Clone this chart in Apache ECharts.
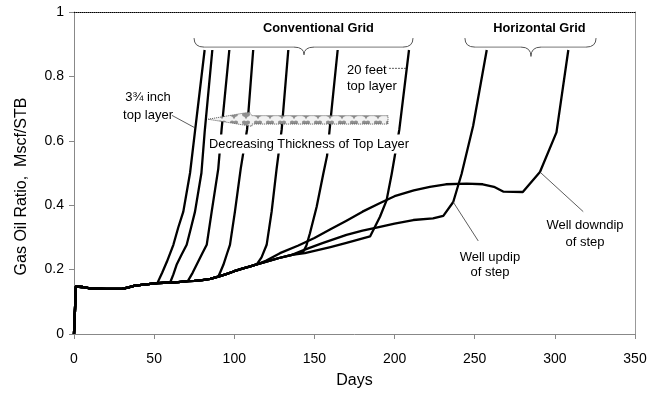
<!DOCTYPE html>
<html>
<head>
<meta charset="utf-8">
<script src="https://cdn.jsdelivr.net/npm/echarts@6/dist/echarts.min.js"></script>
<style>
html, body { margin: 0; padding: 0; background: #fff; }
#chart { width: 661px; height: 394px; }
</style>
</head>
<body>
<div id="chart"></div>
<script>
// Gas-oil ratio (Mscf/STB) versus time (days).
// Shared early trend that every well follows before gas breakthrough.
const trend = [
  [0, 0], [1.2, 0.147], [5, 0.146], [10, 0.142], [20, 0.14], [30, 0.14],
  [34, 0.145], [38, 0.15], [45, 0.154], [52, 0.158], [60, 0.16], [65, 0.161],
  [71, 0.164], [75, 0.165], [80, 0.167], [85, 0.171], [90, 0.178], [95, 0.186],
  [100, 0.195], [105, 0.203], [110, 0.21], [114, 0.216], [120, 0.225],
  [128, 0.236], [136, 0.246]
];

// Conventional grid runs, thinnest top layer (3¾ inch) to thickest (20 feet).
const convA = [[52, 0.158], [55, 0.19], [58, 0.225], [62, 0.277], [65, 0.33], [68.2, 0.38], [72.4, 0.5], [75.5, 0.63], [81.5, 0.882]];
const convB = [[60, 0.16], [62, 0.185], [64, 0.215], [67, 0.245], [70.3, 0.277], [73, 0.33], [75.5, 0.38], [79.5, 0.5], [81.5, 0.626], [86.3, 0.882]];
const convC = [[71, 0.164], [74, 0.19], [76.5, 0.215], [80, 0.25], [82.8, 0.277], [85.9, 0.38], [90, 0.513], [92.1, 0.636], [96.9, 0.882]];
const convD = [[90, 0.178], [91.5, 0.195], [93.2, 0.215], [95.5, 0.25], [97.3, 0.277], [100.4, 0.38], [104, 0.513], [108, 0.636], [111.8, 0.882]];
const convE = [[114, 0.216], [117, 0.238], [120.2, 0.277], [123.3, 0.38], [126.4, 0.513], [129.6, 0.636], [133.7, 0.882]];
const convF = [[143, 0.255], [145, 0.275], [147.2, 0.313], [151.4, 0.395], [155.5, 0.497], [157.9, 0.554], [160.7, 0.697], [164.5, 0.882]];
const convG = [[144, 0.251], [160, 0.27], [170, 0.283], [184.7, 0.303], [190.9, 0.364], [195, 0.415], [198.2, 0.497], [203, 0.636], [209, 0.882]];

// Horizontal grid runs.
const wellUpdip = [[144, 0.262], [155, 0.282], [170, 0.308], [180, 0.321], [190.9, 0.333], [200, 0.343], [211.7, 0.354], [224, 0.359], [230.4, 0.367], [236.6, 0.41], [241.8, 0.497], [249, 0.646], [257.5, 0.882]];
const wellDowndip = [[120, 0.228], [128.5, 0.251], [140, 0.275], [150, 0.298], [160, 0.325], [170, 0.352], [180, 0.38], [191, 0.407], [200, 0.428], [212, 0.446], [222, 0.457], [232, 0.465], [245, 0.467], [255, 0.465], [262, 0.457], [268, 0.442], [280, 0.441], [290.7, 0.503], [301, 0.626], [308.4, 0.882]];

const runs = [convA, convB, convC, convD, convE, convF, convG, wellUpdip, wellDowndip];

const FONT = "'Liberation Sans', Arial, sans-serif";

// Prefix each run with the shared trend up to the point where it departs.
function withTrend(run) {
  const start = run[0][0];
  return trend.filter(p => p[0] < start).concat(run);
}

const chart = echarts.init(document.getElementById('chart'), null, { renderer: 'canvas' });

chart.setOption({
  animation: false,
  backgroundColor: '#fff',
  grid: { left: 74, right: 26, top: 12, bottom: 57 },
  xAxis: [{
    type: 'value', min: 0, max: 350, interval: 50,
    name: 'Days', nameLocation: 'middle', nameGap: 39,
    nameTextStyle: { fontFamily: FONT, fontSize: 16, color: '#000' },
    axisLine: { lineStyle: { color: '#888', width: 1 } },
    axisTick: { show: true, length: 5, lineStyle: { color: '#888' } },
    axisLabel: { fontFamily: FONT, fontSize: 14, color: '#000', margin: 18 },
    splitLine: { show: false }
  }, {
    type: 'value', min: 0, max: 350, interval: 50, position: 'top',
    axisLine: { show: true, onZero: false, lineStyle: { color: '#000', width: 1, type: [1, 1] } },
    axisTick: { show: false }, axisLabel: { show: false }, splitLine: { show: false }
  }],
  yAxis: [{
    type: 'value', min: 0, max: 1, interval: 0.2,
    name: 'Gas Oil Ratio,  Mscf/STB', nameLocation: 'middle', nameGap: 44,
    nameTextStyle: { fontFamily: FONT, fontSize: 16, color: '#000', padding: [0, 27, 0, 0] },
    axisLine: { show: true, lineStyle: { color: '#888', width: 1 } },
    axisTick: { show: true, length: 5, lineStyle: { color: '#888' } },
    axisLabel: { fontFamily: FONT, fontSize: 14, color: '#000', margin: 10 },
    splitLine: { show: false }
  }, {
    type: 'value', min: 0, max: 1, interval: 0.2, position: 'right',
    axisLine: { show: true, onZero: false, lineStyle: { color: '#999', width: 1 } },
    axisTick: { show: false }, axisLabel: { show: false }, splitLine: { show: false }
  }],
  series: runs.map(run => ({
    type: 'line',
    data: withTrend(run),
    showSymbol: false,
    symbol: 'none',
    lineStyle: { color: '#000', width: 2.3, join: 'round' },
    z: 3
  }))
});

// Annotations, anchored in (days, GOR) coordinates.
const px = (d, v) => chart.convertToPixel({ gridIndex: 0 }, [d, v]);

function label(d, v, text, opts) {
  const p = px(d, v);
  return {
    type: 'text', x: p[0], y: p[1], z: 10,
    style: Object.assign({
      text: text, fill: '#000', fontFamily: FONT, fontSize: 13,
      align: 'center', verticalAlign: 'middle'
    }, opts || {})
  };
}

function segment(a, b, dash, color) {
  return {
    type: 'line', z: 10,
    shape: { x1: a[0], y1: a[1], x2: b[0], y2: b[1] },
    style: { stroke: color || '#333', lineWidth: 0.8, lineDash: dash || null }
  };
}

function leader(d1, v1, d2, v2, dash) {
  return segment(px(d1, v1), px(d2, v2), dash);
}

function curve(a, c, b) {
  return {
    type: 'bezierCurve', z: 10,
    shape: { x1: a[0], y1: a[1], cpx1: c[0], cpy1: c[1], x2: b[0], y2: b[1] },
    style: { stroke: '#555', lineWidth: 1, fill: null }
  };
}

// Curly brace: ends at vTop, straight run at vMid, point at vTip.
function brace(dLeft, dTip, dRight, vTop, vMid, vTip) {
  const L = px(dLeft, vTop), T = px(dTip, vTip), R = px(dRight, vTop);
  const y = px(dLeft, vMid)[1];
  const r = 10;
  return [
    curve(L, [L[0], y], [L[0] + r, y]),
    segment([L[0] + r, y], [T[0] - r, y], null, '#555'),
    curve([T[0] - r, y], [T[0], y], T),
    curve(T, [T[0], y], [T[0] + r, y]),
    segment([T[0] + r, y], [R[0] - r, y], null, '#555'),
    curve([R[0] - r, y], [R[0], y], R)
  ];
}

// Dotted fill for the thickness arrow.
function arrowPattern() {
  const c = document.createElement('canvas');
  c.width = 12; c.height = 8;
  const g = c.getContext('2d');
  g.fillStyle = '#f2f2f2';
  g.fillRect(0, 0, 12, 8);
  g.fillStyle = '#8f8f8f';
  g.beginPath();
  g.moveTo(2.3, 1.5); g.lineTo(9.7, 1.5); g.lineTo(6, 7.2); g.closePath();
  g.fill();
  g.beginPath(); g.arc(4.1, 2.6, 2.1, 0, Math.PI * 2); g.fill();
  g.beginPath(); g.arc(7.9, 2.6, 2.1, 0, Math.PI * 2); g.fill();
  return c;
}

const tip = px(83.6, 0.667);
const headTop = px(109.5, 0.689);
const headBot = px(111, 0.645);
const shaftTopL = px(111, 0.678);
const shaftTopR = px(195.9, 0.678);
const shaftBotR = px(195.9, 0.652);
const shaftBotL = px(111, 0.652);

const graphics = [
  label(152.5, 0.95, 'Conventional Grid', { fontWeight: 'bold', fontSize: 12.8 }),
  label(290.4, 0.95, 'Horizontal Grid', { fontWeight: 'bold', fontSize: 12.8 }),
  {
    type: 'polygon', z: 9,
    shape: { points: [tip, headTop, shaftTopL, shaftTopR, shaftBotR, shaftBotL, headBot] },
    style: { fill: { image: arrowPattern(), repeat: 'repeat' }, stroke: '#555', lineWidth: 1, lineDash: [1, 1] }
  },
  label(146.6, 0.59, 'Decreasing Thickness of Top Layer', {
    fontSize: 12.8, backgroundColor: '#fff', padding: [3, 1, 3, 1]
  }),
  label(46.2, 0.707, '3¾ inch\ntop layer', { lineHeight: 18 }),
  leader(61.1, 0.679, 75.2, 0.641),
  label(170.3, 0.793, '20 feet\ntop layer', { align: 'left', lineHeight: 16 }),
  leader(196.5, 0.825, 207.1, 0.825, [2, 1]),
  label(259.5, 0.215, 'Well updip\nof step', { lineHeight: 15 }),
  leader(236.3, 0.412, 252.2, 0.289),
  label(318.8, 0.311, 'Well downdip\nof step', { lineHeight: 17 }),
  leader(290.7, 0.503, 317.7, 0.38)
].concat(
  brace(74.9, 143.5, 211.5, 0.919, 0.891, 0.867),
  brace(243.9, 285.1, 325.7, 0.919, 0.891, 0.862)
);

chart.setOption({ graphic: graphics });
</script>
</body>
</html>
